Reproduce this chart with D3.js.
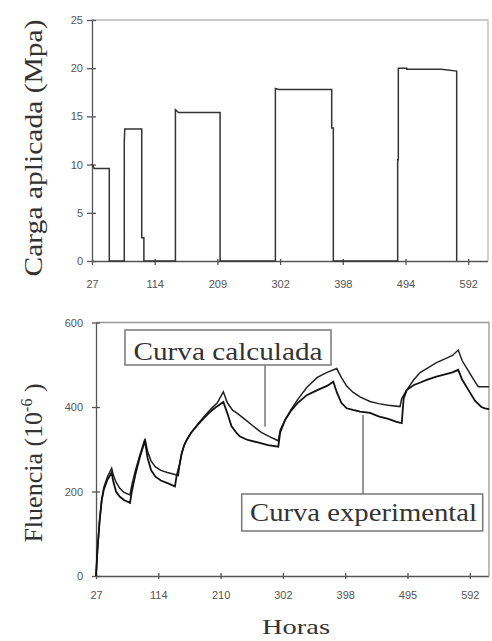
<!DOCTYPE html>
<html>
<head>
<meta charset="utf-8">
<script src="https://cdnjs.cloudflare.com/ajax/libs/d3/7.8.5/d3.min.js"></script>
<style>
  body { margin: 0; background: #fff; }
  .tick text { font-family: "Liberation Sans", Arial, sans-serif; font-size: 11px; fill: #555; }
  .domain, .tick line { stroke: #555; stroke-width: 1.3px; }
  .title { font-family: "Liberation Serif", "Times New Roman", serif; fill: #333; }
</style>
</head>
<body>
<div id="chart-area"></div>
<script>
// Tick labels of the two hour axes (equally spaced in the original)
var loadTicks = [27, 114, 209, 302, 398, 494, 592];
var creepTicks = [27, 114, 210, 302, 398, 495, 592];
var loadYTicks = [0, 5, 10, 15, 20, 25];
var creepYTicks = [0, 200, 400, 600];

// Applied load, [hours, MPa] step outline
var loadSteps = [
  [27, 10.1], [30, 9.6], [51, 9.6], [51, 0], [71.8, 0], [71.8, 12.5], [72.5, 13.7],
  [96, 13.7], [96, 2.4], [99, 2.4], [99, 0], [145.4, 0], [145.4, 15.7], [150, 15.4],
  [213, 15.4], [213, 0], [295, 0], [295, 17.9], [300, 17.8], [381, 17.8], [381, 13.8],
  [383.5, 13.8], [383.5, 0], [482, 0], [482, 10.5], [483, 10.5], [483, 20.0],
  [496, 20.0], [496, 19.9], [550, 19.9], [574, 19.7], [574, 0]
];

// Creep, calculated curve [hours, 1e-6]
var calcCurve = [
  [27, 0], [29, 60], [32, 130], [35, 180], [38, 210], [43, 235], [48.9, 255],
  [51, 240], [55, 222], [60, 208], [66, 198], [74.5, 192],
  [77, 215], [82, 250], [88, 285], [95.4, 325],
  [99, 295], [104, 272], [110, 258], [118, 250], [128, 245], [138, 241], [144.8, 238],
  [147, 265], [150, 290], [154, 310], [157.8, 322], [165, 340], [175, 360], [185, 378],
  [195, 395], [205, 410], [214, 436],
  [220, 410], [228, 392], [233.8, 386], [245, 372], [258, 355], [270, 340], [282, 330], [295.2, 320],
  [298, 345], [305.2, 369], [315, 395], [325, 418], [338.7, 446], [355, 470], [370, 482], [384.9, 491],
  [392, 470], [400, 450], [410, 435], [421, 424], [436.6, 413], [450, 408], [465, 404], [483.3, 401],
  [486, 420], [493.7, 440], [505, 465], [515, 482], [524.9, 491], [540, 505], [555, 515], [565, 522], [574, 535],
  [580, 510], [590, 485], [600, 460], [605.2, 448], [622, 448]
];

// Creep, experimental curve [hours, 1e-6]
var expCurve = [
  [27, 0], [29, 60], [32, 130], [35, 180], [38, 205], [43, 228], [48.9, 245],
  [51, 225], [55, 200], [60, 188], [66, 180], [74.5, 173],
  [77, 200], [82, 240], [88, 280], [95.4, 320],
  [99, 280], [104, 250], [110, 235], [118, 226], [128, 220], [135, 215], [139.7, 212],
  [142, 235], [147, 265], [150, 290], [154, 310], [157.8, 322], [165, 340], [175, 358],
  [185, 375], [195, 390], [205, 402], [214, 412],
  [220, 385], [226, 355], [233.8, 338], [238.7, 330], [250, 322], [265, 316], [280, 310], [295.2, 306],
  [298, 340], [305.2, 369], [315, 392], [325, 410], [338.7, 428], [355, 440], [370, 450], [379.7, 460],
  [385, 435], [392, 410], [400.3, 397], [410, 393], [421, 389], [436.6, 386], [450, 378], [465, 372],
  [478, 365], [486, 362],
  [489, 420], [493.7, 440], [505, 452], [515, 458], [524.9, 464], [540, 472], [555, 478], [565, 482], [574, 488],
  [580, 465], [590, 440], [600, 415], [610, 400], [615.6, 397], [622, 395]
];

var svg = d3.select('#chart-area')
  .append('svg')
    .attr('width', 492)
    .attr('height', 641);

// ---------- Top chart: applied load ----------
var m1 = { left: 92, top: 20, width: 396, height: 241, step: 62.7 };
var g1 = svg.append('g')
  .attr('transform', 'translate(' + m1.left + ',' + m1.top + ')');

var x1 = d3.scaleLinear()
  .domain(loadTicks)
  .range(loadTicks.map(function(d, i) { return i * m1.step; }));
var y1 = d3.scaleLinear()
  .domain([0, 25])
  .range([m1.height, 0]);

// light frame top / right
g1.append('path')
  .attr('d', 'M0,0H' + m1.width + 'V' + m1.height)
  .attr('fill', 'none')
  .attr('stroke', '#bbb')
  .attr('stroke-width', 1.3);

var xAxis1 = g1.append('g')
  .attr('transform', 'translate(0,' + m1.height + ')')
  .call(d3.axisBottom(x1).tickValues(loadTicks).tickFormat(d3.format('d'))
    .tickSize(4).tickSizeOuter(0).tickPadding(15));
xAxis1.select('.domain').attr('d', 'M0,0.5H' + m1.width);
xAxis1.selectAll('.tick line').attr('y1', -2);

var yAxis1 = g1.append('g')
  .call(d3.axisLeft(y1).tickValues(loadYTicks).tickSize(5).tickSizeOuter(0).tickPadding(4));
yAxis1.selectAll('.tick line').attr('x1', 4);

var loadLine = d3.line()
  .x(function(d) { return x1(d[0]); })
  .y(function(d) { return y1(d[1]); });

g1.append('path')
  .datum(loadSteps)
  .attr('d', loadLine)
  .attr('fill', 'none')
  .attr('stroke', '#333')
  .attr('stroke-width', 1.5);

svg.append('text')
  .attr('class', 'title')
  .attr('transform', 'translate(42,148) rotate(-90)')
  .attr('text-anchor', 'middle')
  .attr('font-size', '26px')
  .attr('textLength', 257)
  .attr('lengthAdjust', 'spacingAndGlyphs')
  .text('Carga aplicada (Mpa)');

// ---------- Bottom chart: creep ----------
var m2 = { left: 96, top: 322.5, width: 393, height: 253.5, step: 62.3 };
var g2 = svg.append('g')
  .attr('transform', 'translate(' + m2.left + ',' + m2.top + ')');

var x2 = d3.scaleLinear()
  .domain(creepTicks)
  .range(creepTicks.map(function(d, i) { return i * m2.step; }));
var y2 = d3.scaleLinear()
  .domain([0, 600])
  .range([m2.height, 0]);

g2.append('path')
  .attr('d', 'M0,0H' + m2.width + 'V' + m2.height)
  .attr('fill', 'none')
  .attr('stroke', '#999')
  .attr('stroke-width', 1.3);

var xAxis2 = g2.append('g')
  .attr('transform', 'translate(0,' + m2.height + ')')
  .call(d3.axisBottom(x2).tickValues(creepTicks).tickFormat(d3.format('d'))
    .tickSize(3).tickSizeOuter(0).tickPadding(12));
xAxis2.select('.domain').attr('d', 'M0,0.5H' + m2.width);
xAxis2.selectAll('.tick line').attr('y1', -3);

var yAxis2 = g2.append('g')
  .call(d3.axisLeft(y2).tickValues(creepYTicks).tickSize(4).tickSizeOuter(0).tickPadding(9));
yAxis2.selectAll('.tick line').attr('x1', 4);

var creepLine = d3.line()
  .x(function(d) { return x2(d[0]); })
  .y(function(d) { return y2(d[1]); });

g2.append('path')
  .datum(calcCurve)
  .attr('d', creepLine)
  .attr('fill', 'none')
  .attr('stroke', '#222')
  .attr('stroke-width', 1.5);

g2.append('path')
  .datum(expCurve)
  .attr('d', creepLine)
  .attr('fill', 'none')
  .attr('stroke', '#111')
  .attr('stroke-width', 1.8);

// Labels with leader lines
g2.append('line')
  .attr('x1', x2(275.6)).attr('x2', x2(275.6))
  .attr('y1', 42.5).attr('y2', y2(353))
  .attr('stroke', '#777').attr('stroke-width', 1.5);

g2.append('line')
  .attr('x1', x2(425.7)).attr('x2', x2(425.7))
  .attr('y1', y2(381)).attr('y2', 171.5)
  .attr('stroke', '#777').attr('stroke-width', 1.5);

g2.append('rect')
  .attr('x', 29).attr('y', 7.5)
  .attr('width', 206).attr('height', 35)
  .attr('fill', '#fff').attr('stroke', '#777').attr('stroke-width', 1.5);
g2.append('text')
  .attr('class', 'title')
  .attr('x', 132).attr('y', 37.5)
  .attr('text-anchor', 'middle')
  .attr('font-size', '26px')
  .attr('textLength', 189)
  .attr('lengthAdjust', 'spacingAndGlyphs')
  .text('Curva calculada');

g2.append('rect')
  .attr('x', 145.7).attr('y', 171.5)
  .attr('width', 241).attr('height', 37)
  .attr('fill', '#fff').attr('stroke', '#777').attr('stroke-width', 1.5);
g2.append('text')
  .attr('class', 'title')
  .attr('x', 267.5).attr('y', 198.5)
  .attr('text-anchor', 'middle')
  .attr('font-size', '26px')
  .attr('textLength', 227)
  .attr('lengthAdjust', 'spacingAndGlyphs')
  .text('Curva experimental');

// Axis titles
var yTitle2 = svg.append('text')
  .attr('class', 'title')
  .attr('transform', 'translate(42,463) rotate(-90)')
  .attr('text-anchor', 'middle')
  .attr('font-size', '26px');
yTitle2.append('tspan').text('Fluencia (10');
yTitle2.append('tspan').attr('dy', -10).attr('font-size', '16px').text('-6');
yTitle2.append('tspan').attr('dy', 10).text(' )');

svg.append('text')
  .attr('class', 'title')
  .attr('x', 296).attr('y', 634)
  .attr('text-anchor', 'middle')
  .attr('font-size', '22px')
  .attr('textLength', 68)
  .attr('lengthAdjust', 'spacingAndGlyphs')
  .text('Horas');
</script>
</body>
</html>
